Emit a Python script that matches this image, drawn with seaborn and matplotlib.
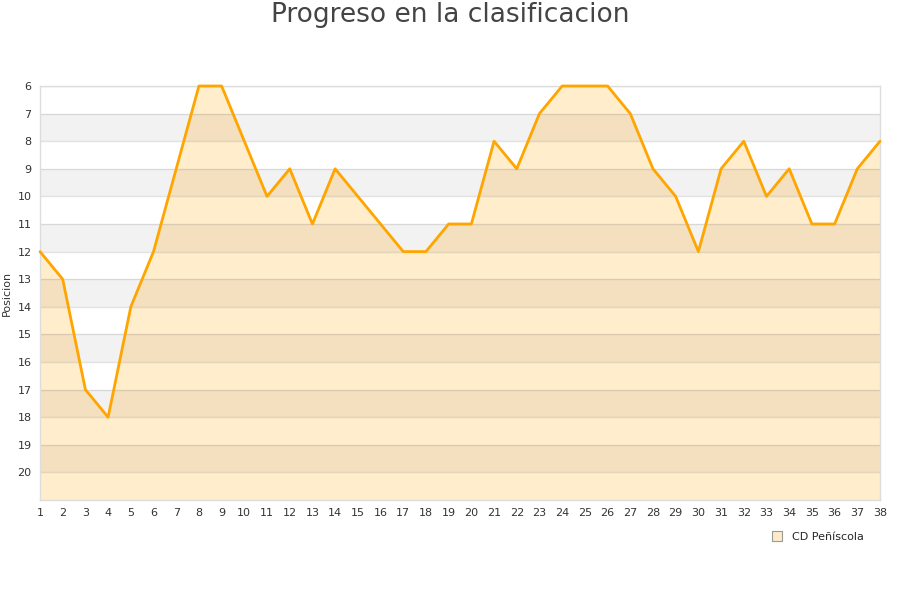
import matplotlib
matplotlib.use("Agg")
import matplotlib.pyplot as plt
import seaborn as sns
import pandas as pd
from matplotlib.lines import Line2D

jornadas = list(range(1, 39))
posicion = [12, 13, 17, 18, 14, 12, 9, 6, 6, 8, 10, 9, 11, 9, 10, 11, 12, 12, 11, 11,
            8, 9, 7, 6, 6, 6, 7, 9, 10, 12, 9, 8, 10, 9, 11, 11, 9, 8]
team = "CD Peñíscola"
title = "Progreso en la clasificacion"
ylabel = "Posicion"
yticks = list(range(6, 21))

df = pd.DataFrame({"Jornada": jornadas, "Posicion": posicion})

sns.set_style("white")
plt.rcParams['font.family'] = ['DejaVu Sans']

fig = plt.figure(figsize=(9, 6), dpi=100)
ax = fig.add_axes([40/900, 1-500/600, 840/900, 414/600])

# alternating bands (background)
for y in range(7, 21, 2):
    ax.axhspan(y, y+1, color="#F2F2F2", zorder=0, lw=0)

fill = ax.fill_between(df["Jornada"], df["Posicion"], 21, color="#FFEDCB", lw=0, zorder=1)

# darker bands inside the filled area
for y in range(7, 21, 2):
    b = ax.axhspan(y, y+1, color=(155/255, 117/255, 83/255), alpha=0.1, zorder=1.2, lw=0)
    b.set_clip_path(fill.get_paths()[0], ax.transData)

for y in yticks:
    ax.axhline(y, color="#808080", alpha=0.22, lw=1, zorder=1.5)

sns.lineplot(data=df, x="Jornada", y="Posicion", ax=ax, color="#FFA500", lw=2, zorder=3)
for l in ax.lines[-1:]:
    l.set_clip_on(False)

ax.set_xlim(1, 38)
ax.set_ylim(21, 6)
ax.set_xticks(jornadas)
ax.set_yticks(yticks)
ax.tick_params(axis="both", labelsize=8, colors="#333333", length=0, pad=6)
ax.set_xlabel("")
ax.set_ylabel(ylabel, fontsize=8, color="#333333", labelpad=4)
for s in ax.spines.values():
    s.set_color("#DDDDDD")
    s.set_linewidth(1)
    s.set_zorder(2)

fig.text(0.5, 1-15/600, title, ha="center", va="center", fontsize=19, color="#444444")

handle = Line2D([], [], marker="s", linestyle="none", markersize=7,
                markerfacecolor="#FFEBC8", markeredgecolor="#999999", markeredgewidth=0.8)
fig.legend([handle], [team], loc="center", bbox_to_anchor=(815/900, 1-537/600),
           frameon=False, fontsize=8, handletextpad=0.3)

fig.savefig("out.png", dpi=100)
